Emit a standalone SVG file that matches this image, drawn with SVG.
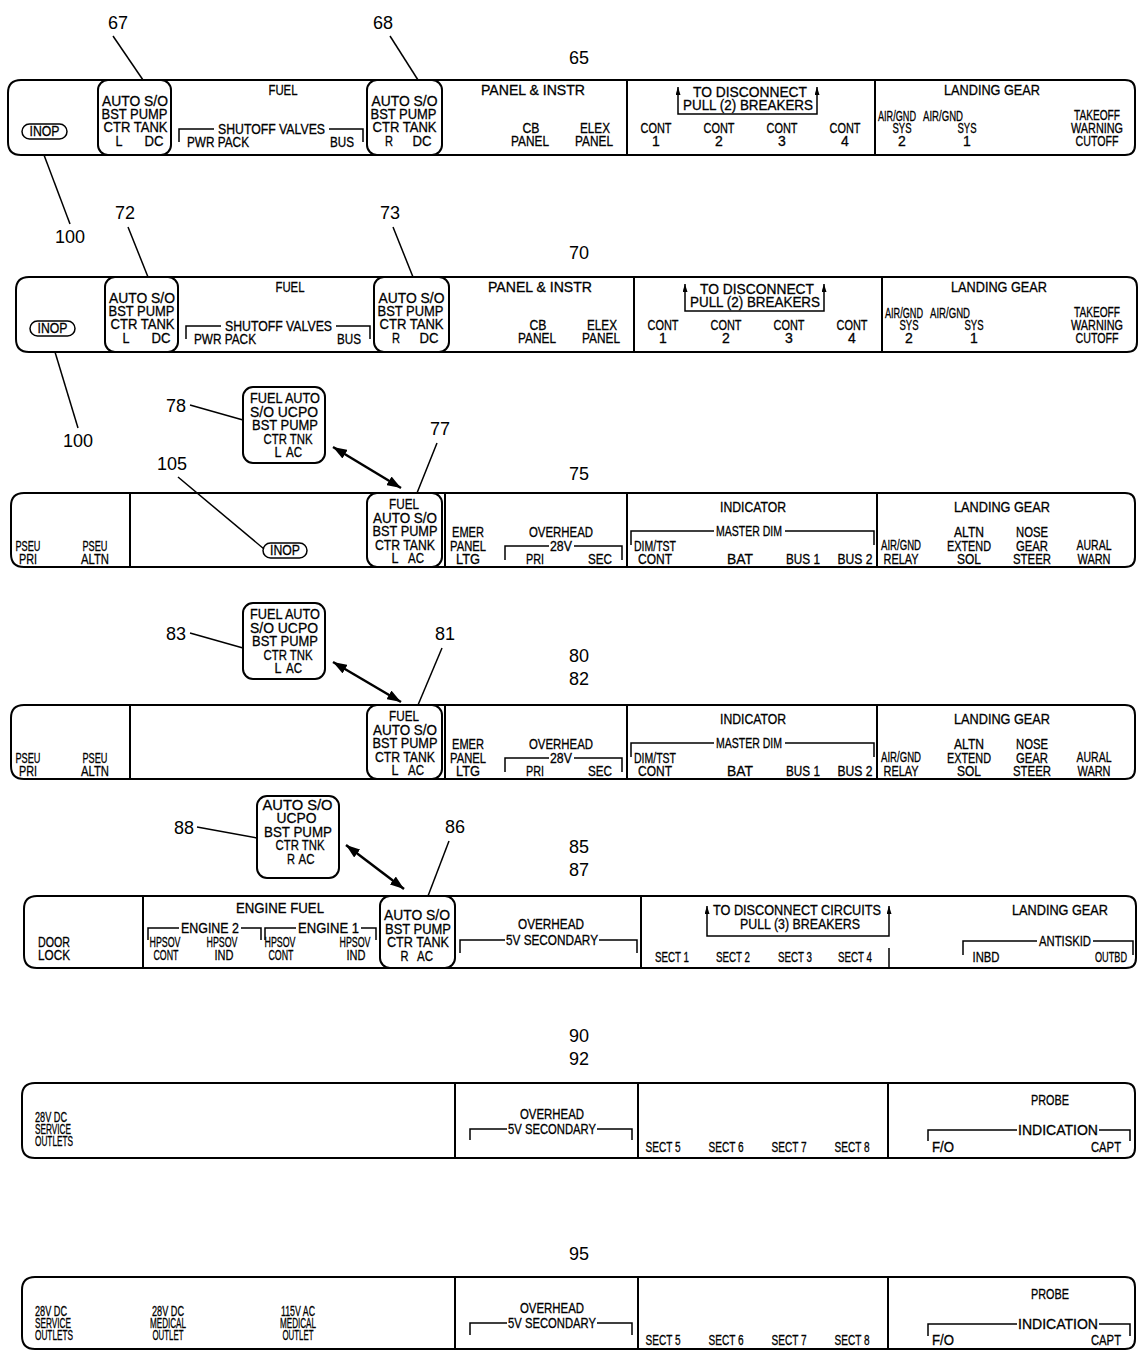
<svg xmlns="http://www.w3.org/2000/svg" width="1138" height="1351" viewBox="0 0 1138 1351">
<style>
text{font-family:"Liberation Sans",Arial,sans-serif;font-size:14px;text-anchor:middle;fill:#000;stroke:#000;stroke-width:0.3px}
.b{font-size:15px}
.n{font-size:18px;stroke:none}
.st{text-anchor:start}
.p{fill:none;stroke:#000;stroke-width:2}
.l{fill:none;stroke:#000;stroke-width:1.5}
.a{fill:none;stroke:#000;stroke-width:2.5}
</style>
<defs>
<marker id="sa" viewBox="0 0 10 10" refX="10" refY="5" markerWidth="8" markerHeight="5" preserveAspectRatio="none" markerUnits="userSpaceOnUse" orient="auto-start-reverse"><path d="M0,0 L10,5 L0,10 z"/></marker>
<marker id="ba" viewBox="0 0 10 10" refX="10" refY="5" markerWidth="14" markerHeight="10" preserveAspectRatio="none" markerUnits="userSpaceOnUse" orient="auto-start-reverse"><path d="M0,0 L10,5 L0,10 z"/></marker>
</defs>
<rect width="1138" height="1351" fill="#fff"/>

<g id="connectors">
<path class="l" d="M113,36 L143,80"/>
<path class="l" d="M390,36 L418,80"/>
<path class="l" d="M44,155 L70,224"/>
<path class="l" d="M128,227 L148,277"/>
<path class="l" d="M393,227 L413,277"/>
<path class="l" d="M55,352 L78,428"/>
<path class="l" d="M190,405 L243,420"/>
<path class="l" d="M437,443 L417,493"/>
<path class="l" d="M178,477 L264,549"/>
<path class="a" d="M333,447 L401,488" marker-start="url(#ba)" marker-end="url(#ba)"/>
<path class="l" d="M190,633 L243,648"/>
<path class="l" d="M442,648 L418,705"/>
<path class="a" d="M333,662 L401,702" marker-start="url(#ba)" marker-end="url(#ba)"/>
<path class="l" d="M197,827 L257,838"/>
<path class="l" d="M449,841 L428,896"/>
<path class="a" d="M346,845 L404,889" marker-start="url(#ba)" marker-end="url(#ba)"/>
</g>

<g id="labels">
<text class="n" x="118" y="29">67</text>
<text class="n" x="383" y="29">68</text>
<text class="n" x="579" y="64">65</text>
<text class="n" x="70" y="243">100</text>
<text class="n" x="125" y="219">72</text>
<text class="n" x="390" y="219">73</text>
<text class="n" x="579" y="259">70</text>
<text class="n" x="78" y="447">100</text>
<text class="n" x="176" y="412">78</text>
<text class="n" x="440" y="435">77</text>
<text class="n" x="172" y="470">105</text>
<text class="n" x="579" y="480">75</text>
<text class="n" x="176" y="640">83</text>
<text class="n" x="445" y="640">81</text>
<text class="n" x="579" y="662">80</text>
<text class="n" x="579" y="685">82</text>
<text class="n" x="184" y="834">88</text>
<text class="n" x="455" y="833">86</text>
<text class="n" x="579" y="853">85</text>
<text class="n" x="579" y="876">87</text>
<text class="n" x="579" y="1042">90</text>
<text class="n" x="579" y="1065">92</text>
<text class="n" x="579" y="1260">95</text>
</g>

<!-- Row 1 -->
<g id="panel-65">
<path class="p" d="M21,80 H1125 Q1135,80 1135,90 V145 Q1135,155 1125,155 H21 Q8,155 8,142 V93 Q8,80 21,80 Z"/>
<path class="p" d="M627,80 V155 M875,80 V155"/>
<g id="switch-67"><rect class="p" x="98" y="80" width="73" height="75" rx="10"/>
<text class="b" x="135" y="106" textLength="66" lengthAdjust="spacingAndGlyphs">AUTO S/O</text>
<text class="b" x="134.5" y="119" textLength="66" lengthAdjust="spacingAndGlyphs">BST PUMP</text>
<text class="b" x="135.5" y="132" textLength="64" lengthAdjust="spacingAndGlyphs">CTR TANK</text>
<text class="b" x="119" y="145.5" textLength="7" lengthAdjust="spacingAndGlyphs">L</text>
<text class="b" x="154" y="145.5" textLength="19" lengthAdjust="spacingAndGlyphs">DC</text></g>
<g id="switch-68"><rect class="p" x="367" y="80" width="75" height="75" rx="10"/>
<text class="b" x="404.5" y="106" textLength="66" lengthAdjust="spacingAndGlyphs">AUTO S/O</text>
<text class="b" x="403.5" y="119" textLength="66" lengthAdjust="spacingAndGlyphs">BST PUMP</text>
<text class="b" x="404.5" y="132" textLength="64" lengthAdjust="spacingAndGlyphs">CTR TANK</text>
<text class="b" x="389" y="145.5" textLength="8" lengthAdjust="spacingAndGlyphs">R</text>
<text class="b" x="422" y="145.5" textLength="19" lengthAdjust="spacingAndGlyphs">DC</text></g>
<g id="inop-100a"><rect class="l" x="22" y="124" width="45" height="15" rx="7.5"/>
<text x="44.5" y="136" font-size="13" textLength="30" lengthAdjust="spacingAndGlyphs">INOP</text></g>
<text x="283" y="95" textLength="29" lengthAdjust="spacingAndGlyphs">FUEL</text>
<path class="l" d="M179,142 V129 H214 M329,129 H363 V142"/>
<text x="271.5" y="134" textLength="107" lengthAdjust="spacingAndGlyphs">SHUTOFF VALVES</text>
<text x="218" y="147" textLength="62" lengthAdjust="spacingAndGlyphs">PWR PACK</text>
<text x="342" y="147" textLength="24" lengthAdjust="spacingAndGlyphs">BUS</text>
<text x="533" y="95" textLength="104" lengthAdjust="spacingAndGlyphs">PANEL &amp; INSTR</text>
<text x="531" y="133" textLength="17" lengthAdjust="spacingAndGlyphs">CB</text>
<text x="530" y="146" textLength="38" lengthAdjust="spacingAndGlyphs">PANEL</text>
<text x="595" y="133" textLength="30" lengthAdjust="spacingAndGlyphs">ELEX</text>
<text x="594" y="146" textLength="38" lengthAdjust="spacingAndGlyphs">PANEL</text>
<path class="l" d="M678,87 V114 H817 V87" marker-start="url(#sa)" marker-end="url(#sa)"/>
<text x="750" y="97" textLength="114" lengthAdjust="spacingAndGlyphs">TO DISCONNECT</text>
<text x="748" y="110" textLength="130" lengthAdjust="spacingAndGlyphs">PULL (2) BREAKERS</text>
<text x="656" y="133" textLength="31" lengthAdjust="spacingAndGlyphs">CONT</text>
<text x="719" y="133" textLength="31" lengthAdjust="spacingAndGlyphs">CONT</text>
<text x="782" y="133" textLength="31" lengthAdjust="spacingAndGlyphs">CONT</text>
<text x="845" y="133" textLength="31" lengthAdjust="spacingAndGlyphs">CONT</text>
<text x="656" y="146">1</text>
<text x="719" y="146">2</text>
<text x="782" y="146">3</text>
<text x="845" y="146">4</text>
<text x="992" y="95" textLength="96" lengthAdjust="spacingAndGlyphs">LANDING GEAR</text>
<text x="897" y="121" textLength="38" lengthAdjust="spacingAndGlyphs">AIR/GND</text>
<text x="943" y="121" textLength="40" lengthAdjust="spacingAndGlyphs">AIR/GND</text>
<text x="902" y="133" textLength="19" lengthAdjust="spacingAndGlyphs">SYS</text>
<text x="967" y="133" textLength="19" lengthAdjust="spacingAndGlyphs">SYS</text>
<text x="902" y="146">2</text>
<text x="967" y="146">1</text>
<text x="1097" y="120" textLength="46" lengthAdjust="spacingAndGlyphs">TAKEOFF</text>
<text x="1097" y="133" textLength="52" lengthAdjust="spacingAndGlyphs">WARNING</text>
<text x="1097" y="146" textLength="43" lengthAdjust="spacingAndGlyphs">CUTOFF</text>
</g>

<!-- Row 2 -->
<g id="panel-70" transform="translate(7,197)">
<path class="p" d="M22,80 H1120 Q1130,80 1130,90 V145 Q1130,155 1120,155 H22 Q9,155 9,142 V93 Q9,80 22,80 Z"/>
<path class="p" d="M627,80 V155 M875,80 V155"/>
<g id="switch-72"><rect class="p" x="98" y="80" width="73" height="75" rx="10"/>
<text class="b" x="135" y="106" textLength="66" lengthAdjust="spacingAndGlyphs">AUTO S/O</text>
<text class="b" x="134.5" y="119" textLength="66" lengthAdjust="spacingAndGlyphs">BST PUMP</text>
<text class="b" x="135.5" y="132" textLength="64" lengthAdjust="spacingAndGlyphs">CTR TANK</text>
<text class="b" x="119" y="145.5" textLength="7" lengthAdjust="spacingAndGlyphs">L</text>
<text class="b" x="154" y="145.5" textLength="19" lengthAdjust="spacingAndGlyphs">DC</text></g>
<g id="switch-73"><rect class="p" x="367" y="80" width="75" height="75" rx="10"/>
<text class="b" x="404.5" y="106" textLength="66" lengthAdjust="spacingAndGlyphs">AUTO S/O</text>
<text class="b" x="403.5" y="119" textLength="66" lengthAdjust="spacingAndGlyphs">BST PUMP</text>
<text class="b" x="404.5" y="132" textLength="64" lengthAdjust="spacingAndGlyphs">CTR TANK</text>
<text class="b" x="389" y="145.5" textLength="8" lengthAdjust="spacingAndGlyphs">R</text>
<text class="b" x="422" y="145.5" textLength="19" lengthAdjust="spacingAndGlyphs">DC</text></g>
<g id="inop-100b"><rect class="l" x="23" y="124" width="45" height="15" rx="7.5"/>
<text x="45.5" y="136" font-size="13" textLength="30" lengthAdjust="spacingAndGlyphs">INOP</text></g>
<text x="283" y="95" textLength="29" lengthAdjust="spacingAndGlyphs">FUEL</text>
<path class="l" d="M179,142 V129 H214 M329,129 H363 V142"/>
<text x="271.5" y="134" textLength="107" lengthAdjust="spacingAndGlyphs">SHUTOFF VALVES</text>
<text x="218" y="147" textLength="62" lengthAdjust="spacingAndGlyphs">PWR PACK</text>
<text x="342" y="147" textLength="24" lengthAdjust="spacingAndGlyphs">BUS</text>
<text x="533" y="95" textLength="104" lengthAdjust="spacingAndGlyphs">PANEL &amp; INSTR</text>
<text x="531" y="133" textLength="17" lengthAdjust="spacingAndGlyphs">CB</text>
<text x="530" y="146" textLength="38" lengthAdjust="spacingAndGlyphs">PANEL</text>
<text x="595" y="133" textLength="30" lengthAdjust="spacingAndGlyphs">ELEX</text>
<text x="594" y="146" textLength="38" lengthAdjust="spacingAndGlyphs">PANEL</text>
<path class="l" d="M678,87 V114 H817 V87" marker-start="url(#sa)" marker-end="url(#sa)"/>
<text x="750" y="97" textLength="114" lengthAdjust="spacingAndGlyphs">TO DISCONNECT</text>
<text x="748" y="110" textLength="130" lengthAdjust="spacingAndGlyphs">PULL (2) BREAKERS</text>
<text x="656" y="133" textLength="31" lengthAdjust="spacingAndGlyphs">CONT</text>
<text x="719" y="133" textLength="31" lengthAdjust="spacingAndGlyphs">CONT</text>
<text x="782" y="133" textLength="31" lengthAdjust="spacingAndGlyphs">CONT</text>
<text x="845" y="133" textLength="31" lengthAdjust="spacingAndGlyphs">CONT</text>
<text x="656" y="146">1</text>
<text x="719" y="146">2</text>
<text x="782" y="146">3</text>
<text x="845" y="146">4</text>
<text x="992" y="95" textLength="96" lengthAdjust="spacingAndGlyphs">LANDING GEAR</text>
<text x="897" y="121" textLength="38" lengthAdjust="spacingAndGlyphs">AIR/GND</text>
<text x="943" y="121" textLength="40" lengthAdjust="spacingAndGlyphs">AIR/GND</text>
<text x="902" y="133" textLength="19" lengthAdjust="spacingAndGlyphs">SYS</text>
<text x="967" y="133" textLength="19" lengthAdjust="spacingAndGlyphs">SYS</text>
<text x="902" y="146">2</text>
<text x="967" y="146">1</text>
<text x="1090" y="120" textLength="46" lengthAdjust="spacingAndGlyphs">TAKEOFF</text>
<text x="1090" y="133" textLength="52" lengthAdjust="spacingAndGlyphs">WARNING</text>
<text x="1090" y="146" textLength="43" lengthAdjust="spacingAndGlyphs">CUTOFF</text>
</g>

<!-- Callouts 78 / 83 -->
<g id="callout-78">
<rect class="p" x="243" y="387" width="82" height="76" rx="10"/>
<text class="b" x="285" y="403" textLength="70" lengthAdjust="spacingAndGlyphs">FUEL AUTO</text>
<text class="b" x="284" y="416.5" textLength="68" lengthAdjust="spacingAndGlyphs">S/O UCPO</text>
<text class="b" x="285" y="430" textLength="66" lengthAdjust="spacingAndGlyphs">BST PUMP</text>
<text class="b" x="288" y="443.5" textLength="49" lengthAdjust="spacingAndGlyphs">CTR TNK</text>
<text class="b" x="278" y="457" textLength="7" lengthAdjust="spacingAndGlyphs">L</text>
<text class="b" x="294" y="457" textLength="16" lengthAdjust="spacingAndGlyphs">AC</text>
</g>
<g id="callout-83" transform="translate(0,216)">
<rect class="p" x="243" y="387" width="82" height="76" rx="10"/>
<text class="b" x="285" y="403" textLength="70" lengthAdjust="spacingAndGlyphs">FUEL AUTO</text>
<text class="b" x="284" y="416.5" textLength="68" lengthAdjust="spacingAndGlyphs">S/O UCPO</text>
<text class="b" x="285" y="430" textLength="66" lengthAdjust="spacingAndGlyphs">BST PUMP</text>
<text class="b" x="288" y="443.5" textLength="49" lengthAdjust="spacingAndGlyphs">CTR TNK</text>
<text class="b" x="278" y="457" textLength="7" lengthAdjust="spacingAndGlyphs">L</text>
<text class="b" x="294" y="457" textLength="16" lengthAdjust="spacingAndGlyphs">AC</text>
</g>

<!-- Row 3 -->
<g id="panel-75">
<path class="p" d="M24,493 H1125 Q1135,493 1135,503 V557 Q1135,567 1125,567 H24 Q11,567 11,554 V506 Q11,493 24,493 Z"/>
<path class="p" d="M130,493 V567 M445,493 V567 M627,493 V567 M877,493 V567"/>
<g id="inop-105"><rect class="l" x="263" y="543" width="44" height="15" rx="7.5"/>
<text x="285" y="555" font-size="13" textLength="30" lengthAdjust="spacingAndGlyphs">INOP</text></g>
<text x="28" y="551" textLength="25" lengthAdjust="spacingAndGlyphs">PSEU</text>
<text x="28" y="564" textLength="18" lengthAdjust="spacingAndGlyphs">PRI</text>
<text x="95" y="551" textLength="25" lengthAdjust="spacingAndGlyphs">PSEU</text>
<text x="95" y="564" textLength="28" lengthAdjust="spacingAndGlyphs">ALTN</text>
<g id="switch-77"><rect class="p" x="367" y="493" width="75" height="74" rx="10"/>
<text class="b" x="404" y="509" textLength="30" lengthAdjust="spacingAndGlyphs">FUEL</text>
<text class="b" x="405" y="522.5" textLength="64" lengthAdjust="spacingAndGlyphs">AUTO S/O</text>
<text class="b" x="405" y="536" textLength="65" lengthAdjust="spacingAndGlyphs">BST PUMP</text>
<text class="b" x="405" y="549.5" textLength="60" lengthAdjust="spacingAndGlyphs">CTR TANK</text>
<text class="b" x="395" y="563" textLength="7" lengthAdjust="spacingAndGlyphs">L</text>
<text class="b" x="416" y="563" textLength="16" lengthAdjust="spacingAndGlyphs">AC</text></g>
<text x="468" y="537" textLength="32" lengthAdjust="spacingAndGlyphs">EMER</text>
<text x="468" y="550.5" textLength="36" lengthAdjust="spacingAndGlyphs">PANEL</text>
<text x="468" y="564" textLength="24" lengthAdjust="spacingAndGlyphs">LTG</text>
<text x="561" y="537" textLength="64" lengthAdjust="spacingAndGlyphs">OVERHEAD</text>
<path class="l" d="M505,560 V546 H549 M574,546 H622 V560"/>
<text x="561" y="551" textLength="22" lengthAdjust="spacingAndGlyphs">28V</text>
<text x="535" y="564" textLength="18" lengthAdjust="spacingAndGlyphs">PRI</text>
<text x="600" y="564" textLength="24" lengthAdjust="spacingAndGlyphs">SEC</text>
<text x="753" y="512" textLength="66" lengthAdjust="spacingAndGlyphs">INDICATOR</text>
<path class="l" d="M631,545 V531 H714 M785,531 H874 V545"/>
<text x="749" y="536" textLength="66" lengthAdjust="spacingAndGlyphs">MASTER DIM</text>
<text x="655" y="550.5" textLength="42" lengthAdjust="spacingAndGlyphs">DIM/TST</text>
<text x="655" y="564" textLength="34" lengthAdjust="spacingAndGlyphs">CONT</text>
<text x="740" y="564" textLength="26" lengthAdjust="spacingAndGlyphs">BAT</text>
<text x="803" y="564" textLength="34" lengthAdjust="spacingAndGlyphs">BUS 1</text>
<text x="855" y="564" textLength="35" lengthAdjust="spacingAndGlyphs">BUS 2</text>
<text x="1002" y="512" textLength="96" lengthAdjust="spacingAndGlyphs">LANDING GEAR</text>
<text x="901" y="550" textLength="40" lengthAdjust="spacingAndGlyphs">AIR/GND</text>
<text x="901" y="564" textLength="35" lengthAdjust="spacingAndGlyphs">RELAY</text>
<text x="969" y="537" textLength="30" lengthAdjust="spacingAndGlyphs">ALTN</text>
<text x="969" y="550.5" textLength="44" lengthAdjust="spacingAndGlyphs">EXTEND</text>
<text x="969" y="564" textLength="24" lengthAdjust="spacingAndGlyphs">SOL</text>
<text x="1032" y="537" textLength="32" lengthAdjust="spacingAndGlyphs">NOSE</text>
<text x="1032" y="550.5" textLength="32" lengthAdjust="spacingAndGlyphs">GEAR</text>
<text x="1032" y="564" textLength="38" lengthAdjust="spacingAndGlyphs">STEER</text>
<text x="1094" y="550" textLength="35" lengthAdjust="spacingAndGlyphs">AURAL</text>
<text x="1094" y="564" textLength="33" lengthAdjust="spacingAndGlyphs">WARN</text>
</g>

<!-- Row 4 -->
<g id="panel-80-82" transform="translate(0,212)">
<path class="p" d="M24,493 H1125 Q1135,493 1135,503 V557 Q1135,567 1125,567 H24 Q11,567 11,554 V506 Q11,493 24,493 Z"/>
<path class="p" d="M130,493 V567 M445,493 V567 M627,493 V567 M877,493 V567"/>
<text x="28" y="551" textLength="25" lengthAdjust="spacingAndGlyphs">PSEU</text>
<text x="28" y="564" textLength="18" lengthAdjust="spacingAndGlyphs">PRI</text>
<text x="95" y="551" textLength="25" lengthAdjust="spacingAndGlyphs">PSEU</text>
<text x="95" y="564" textLength="28" lengthAdjust="spacingAndGlyphs">ALTN</text>
<g id="switch-81"><rect class="p" x="367" y="493" width="75" height="74" rx="10"/>
<text class="b" x="404" y="509" textLength="30" lengthAdjust="spacingAndGlyphs">FUEL</text>
<text class="b" x="405" y="522.5" textLength="64" lengthAdjust="spacingAndGlyphs">AUTO S/O</text>
<text class="b" x="405" y="536" textLength="65" lengthAdjust="spacingAndGlyphs">BST PUMP</text>
<text class="b" x="405" y="549.5" textLength="60" lengthAdjust="spacingAndGlyphs">CTR TANK</text>
<text class="b" x="395" y="563" textLength="7" lengthAdjust="spacingAndGlyphs">L</text>
<text class="b" x="416" y="563" textLength="16" lengthAdjust="spacingAndGlyphs">AC</text></g>
<text x="468" y="537" textLength="32" lengthAdjust="spacingAndGlyphs">EMER</text>
<text x="468" y="550.5" textLength="36" lengthAdjust="spacingAndGlyphs">PANEL</text>
<text x="468" y="564" textLength="24" lengthAdjust="spacingAndGlyphs">LTG</text>
<text x="561" y="537" textLength="64" lengthAdjust="spacingAndGlyphs">OVERHEAD</text>
<path class="l" d="M505,560 V546 H549 M574,546 H622 V560"/>
<text x="561" y="551" textLength="22" lengthAdjust="spacingAndGlyphs">28V</text>
<text x="535" y="564" textLength="18" lengthAdjust="spacingAndGlyphs">PRI</text>
<text x="600" y="564" textLength="24" lengthAdjust="spacingAndGlyphs">SEC</text>
<text x="753" y="512" textLength="66" lengthAdjust="spacingAndGlyphs">INDICATOR</text>
<path class="l" d="M631,545 V531 H714 M785,531 H874 V545"/>
<text x="749" y="536" textLength="66" lengthAdjust="spacingAndGlyphs">MASTER DIM</text>
<text x="655" y="550.5" textLength="42" lengthAdjust="spacingAndGlyphs">DIM/TST</text>
<text x="655" y="564" textLength="34" lengthAdjust="spacingAndGlyphs">CONT</text>
<text x="740" y="564" textLength="26" lengthAdjust="spacingAndGlyphs">BAT</text>
<text x="803" y="564" textLength="34" lengthAdjust="spacingAndGlyphs">BUS 1</text>
<text x="855" y="564" textLength="35" lengthAdjust="spacingAndGlyphs">BUS 2</text>
<text x="1002" y="512" textLength="96" lengthAdjust="spacingAndGlyphs">LANDING GEAR</text>
<text x="901" y="550" textLength="40" lengthAdjust="spacingAndGlyphs">AIR/GND</text>
<text x="901" y="564" textLength="35" lengthAdjust="spacingAndGlyphs">RELAY</text>
<text x="969" y="537" textLength="30" lengthAdjust="spacingAndGlyphs">ALTN</text>
<text x="969" y="550.5" textLength="44" lengthAdjust="spacingAndGlyphs">EXTEND</text>
<text x="969" y="564" textLength="24" lengthAdjust="spacingAndGlyphs">SOL</text>
<text x="1032" y="537" textLength="32" lengthAdjust="spacingAndGlyphs">NOSE</text>
<text x="1032" y="550.5" textLength="32" lengthAdjust="spacingAndGlyphs">GEAR</text>
<text x="1032" y="564" textLength="38" lengthAdjust="spacingAndGlyphs">STEER</text>
<text x="1094" y="550" textLength="35" lengthAdjust="spacingAndGlyphs">AURAL</text>
<text x="1094" y="564" textLength="33" lengthAdjust="spacingAndGlyphs">WARN</text>
</g>

<!-- Callout 88 -->
<g id="callout-88">
<rect class="p" x="257" y="796" width="82" height="82" rx="10"/>
<text class="b" x="297.5" y="810" textLength="70" lengthAdjust="spacingAndGlyphs">AUTO S/O</text>
<text class="b" x="296.5" y="823" textLength="40" lengthAdjust="spacingAndGlyphs">UCPO</text>
<text class="b" x="298" y="837" textLength="68" lengthAdjust="spacingAndGlyphs">BST PUMP</text>
<text class="b" x="300" y="850" textLength="49" lengthAdjust="spacingAndGlyphs">CTR TNK</text>
<text class="b" x="291" y="863.5" textLength="8" lengthAdjust="spacingAndGlyphs">R</text>
<text class="b" x="306.5" y="863.5" textLength="16" lengthAdjust="spacingAndGlyphs">AC</text>
</g>

<!-- Row 5 -->
<g id="panel-85-87">
<path class="p" d="M37,896 H1126 Q1136,896 1136,906 V958 Q1136,968 1126,968 H37 Q24,968 24,955 V909 Q24,896 37,896 Z"/>
<path class="p" d="M143,896 V968 M641,896 V968"/>
<text x="54" y="947" textLength="32" lengthAdjust="spacingAndGlyphs">DOOR</text>
<text x="54" y="960" textLength="32" lengthAdjust="spacingAndGlyphs">LOCK</text>
<text x="280" y="913" textLength="88" lengthAdjust="spacingAndGlyphs">ENGINE FUEL</text>
<path class="l" d="M148,940 V928 H179 M241,928 H261 V940"/>
<text x="210" y="933" textLength="58" lengthAdjust="spacingAndGlyphs">ENGINE 2</text>
<path class="l" d="M265,940 V928 H296 M361,928 H376 V940"/>
<text x="328.5" y="933" textLength="61" lengthAdjust="spacingAndGlyphs">ENGINE 1</text>
<text x="165" y="947" textLength="31" lengthAdjust="spacingAndGlyphs">HPSOV</text>
<text x="166" y="960" textLength="25" lengthAdjust="spacingAndGlyphs">CONT</text>
<text x="222" y="947" textLength="31" lengthAdjust="spacingAndGlyphs">HPSOV</text>
<text x="224" y="960" textLength="19" lengthAdjust="spacingAndGlyphs">IND</text>
<text x="280" y="947" textLength="31" lengthAdjust="spacingAndGlyphs">HPSOV</text>
<text x="281" y="960" textLength="25" lengthAdjust="spacingAndGlyphs">CONT</text>
<text x="355" y="947" textLength="31" lengthAdjust="spacingAndGlyphs">HPSOV</text>
<text x="356" y="960" textLength="19" lengthAdjust="spacingAndGlyphs">IND</text>
<g id="switch-86"><rect class="p" x="380" y="896" width="75" height="72" rx="10"/>
<text class="b" x="417" y="920" textLength="66" lengthAdjust="spacingAndGlyphs">AUTO S/O</text>
<text class="b" x="418" y="933.5" textLength="66" lengthAdjust="spacingAndGlyphs">BST PUMP</text>
<text class="b" x="418" y="947" textLength="62" lengthAdjust="spacingAndGlyphs">CTR TANK</text>
<text class="b" x="404.5" y="960.5" textLength="8" lengthAdjust="spacingAndGlyphs">R</text>
<text class="b" x="425" y="960.5" textLength="16" lengthAdjust="spacingAndGlyphs">AC</text></g>
<text x="551" y="929" textLength="66" lengthAdjust="spacingAndGlyphs">OVERHEAD</text>
<path class="l" d="M460,953 V940 H505 M599,940 H637 V953"/>
<text x="552" y="945" textLength="92" lengthAdjust="spacingAndGlyphs">5V SECONDARY</text>
<path class="l" d="M707,906 V936 H889 V906" marker-start="url(#sa)" marker-end="url(#sa)"/>
<text x="797" y="915" textLength="168" lengthAdjust="spacingAndGlyphs">TO DISCONNECT CIRCUITS</text>
<text x="800" y="929" textLength="120" lengthAdjust="spacingAndGlyphs">PULL (3) BREAKERS</text>
<text x="672" y="962" textLength="34" lengthAdjust="spacingAndGlyphs">SECT 1</text>
<text x="733" y="962" textLength="34" lengthAdjust="spacingAndGlyphs">SECT 2</text>
<text x="795" y="962" textLength="34" lengthAdjust="spacingAndGlyphs">SECT 3</text>
<text x="855" y="962" textLength="34" lengthAdjust="spacingAndGlyphs">SECT 4</text>
<path class="l" d="M889,948 V968"/>
<text x="1060" y="915" textLength="96" lengthAdjust="spacingAndGlyphs">LANDING GEAR</text>
<path class="l" d="M963,955 V941 H1037 M1093,941 H1133 V955"/>
<text x="1065" y="946" textLength="52" lengthAdjust="spacingAndGlyphs">ANTISKID</text>
<text x="986" y="962" textLength="27" lengthAdjust="spacingAndGlyphs">INBD</text>
<text x="1111" y="962" textLength="32" lengthAdjust="spacingAndGlyphs">OUTBD</text>
</g>

<!-- Row 6 -->
<g id="panel-90-92">
<path class="p" d="M35,1083 H1125 Q1135,1083 1135,1093 V1148 Q1135,1158 1125,1158 H35 Q22,1158 22,1145 V1096 Q22,1083 35,1083 Z"/>
<path class="p" d="M455,1083 V1158 M638,1083 V1158 M888,1083 V1158"/>
<text class="st" x="35" y="1122" textLength="32" lengthAdjust="spacingAndGlyphs">28V DC</text>
<text class="st" x="35" y="1134" textLength="36" lengthAdjust="spacingAndGlyphs">SERVICE</text>
<text class="st" x="35" y="1146" textLength="38" lengthAdjust="spacingAndGlyphs">OUTLETS</text>
<text x="552" y="1119" textLength="64" lengthAdjust="spacingAndGlyphs">OVERHEAD</text>
<path class="l" d="M470,1140 V1129 H507 M597,1129 H632 V1140"/>
<text x="552" y="1134" textLength="88" lengthAdjust="spacingAndGlyphs">5V SECONDARY</text>
<text x="663" y="1152" textLength="35" lengthAdjust="spacingAndGlyphs">SECT 5</text>
<text x="726" y="1152" textLength="35" lengthAdjust="spacingAndGlyphs">SECT 6</text>
<text x="789" y="1152" textLength="35" lengthAdjust="spacingAndGlyphs">SECT 7</text>
<text x="852" y="1152" textLength="35" lengthAdjust="spacingAndGlyphs">SECT 8</text>
<text x="1050" y="1105" textLength="38" lengthAdjust="spacingAndGlyphs">PROBE</text>
<path class="l" d="M928,1141 V1130 H1017 M1099,1130 H1130 V1141"/>
<text x="1058" y="1135" textLength="80" lengthAdjust="spacingAndGlyphs">INDICATION</text>
<text x="943" y="1152" textLength="22" lengthAdjust="spacingAndGlyphs">F/O</text>
<text x="1106" y="1152" textLength="30" lengthAdjust="spacingAndGlyphs">CAPT</text>
</g>

<!-- Row 7 -->
<g id="panel-95">
<path class="p" d="M35,1277 H1125 Q1135,1277 1135,1287 V1339 Q1135,1349 1125,1349 H35 Q22,1349 22,1336 V1290 Q22,1277 35,1277 Z"/>
<path class="p" d="M455,1277 V1349 M638,1277 V1349 M888,1277 V1349"/>
<text class="st" x="35" y="1316" textLength="32" lengthAdjust="spacingAndGlyphs">28V DC</text>
<text class="st" x="35" y="1328" textLength="36" lengthAdjust="spacingAndGlyphs">SERVICE</text>
<text class="st" x="35" y="1340" textLength="38" lengthAdjust="spacingAndGlyphs">OUTLETS</text>
<text x="168" y="1316" textLength="32" lengthAdjust="spacingAndGlyphs">28V DC</text>
<text x="168" y="1328" textLength="36" lengthAdjust="spacingAndGlyphs">MEDICAL</text>
<text x="168" y="1340" textLength="31" lengthAdjust="spacingAndGlyphs">OUTLET</text>
<text x="298" y="1316" textLength="34" lengthAdjust="spacingAndGlyphs">115V AC</text>
<text x="298" y="1328" textLength="36" lengthAdjust="spacingAndGlyphs">MEDICAL</text>
<text x="298" y="1340" textLength="31" lengthAdjust="spacingAndGlyphs">OUTLET</text>
<text x="552" y="1313" textLength="64" lengthAdjust="spacingAndGlyphs">OVERHEAD</text>
<path class="l" d="M470,1335 V1323 H507 M597,1323 H632 V1335"/>
<text x="552" y="1328" textLength="88" lengthAdjust="spacingAndGlyphs">5V SECONDARY</text>
<text x="663" y="1345" textLength="35" lengthAdjust="spacingAndGlyphs">SECT 5</text>
<text x="726" y="1345" textLength="35" lengthAdjust="spacingAndGlyphs">SECT 6</text>
<text x="789" y="1345" textLength="35" lengthAdjust="spacingAndGlyphs">SECT 7</text>
<text x="852" y="1345" textLength="35" lengthAdjust="spacingAndGlyphs">SECT 8</text>
<text x="1050" y="1299" textLength="38" lengthAdjust="spacingAndGlyphs">PROBE</text>
<path class="l" d="M928,1336 V1324 H1017 M1099,1324 H1130 V1336"/>
<text x="1058" y="1329" textLength="80" lengthAdjust="spacingAndGlyphs">INDICATION</text>
<text x="943" y="1345" textLength="22" lengthAdjust="spacingAndGlyphs">F/O</text>
<text x="1106" y="1345" textLength="30" lengthAdjust="spacingAndGlyphs">CAPT</text>
</g>
</svg>
